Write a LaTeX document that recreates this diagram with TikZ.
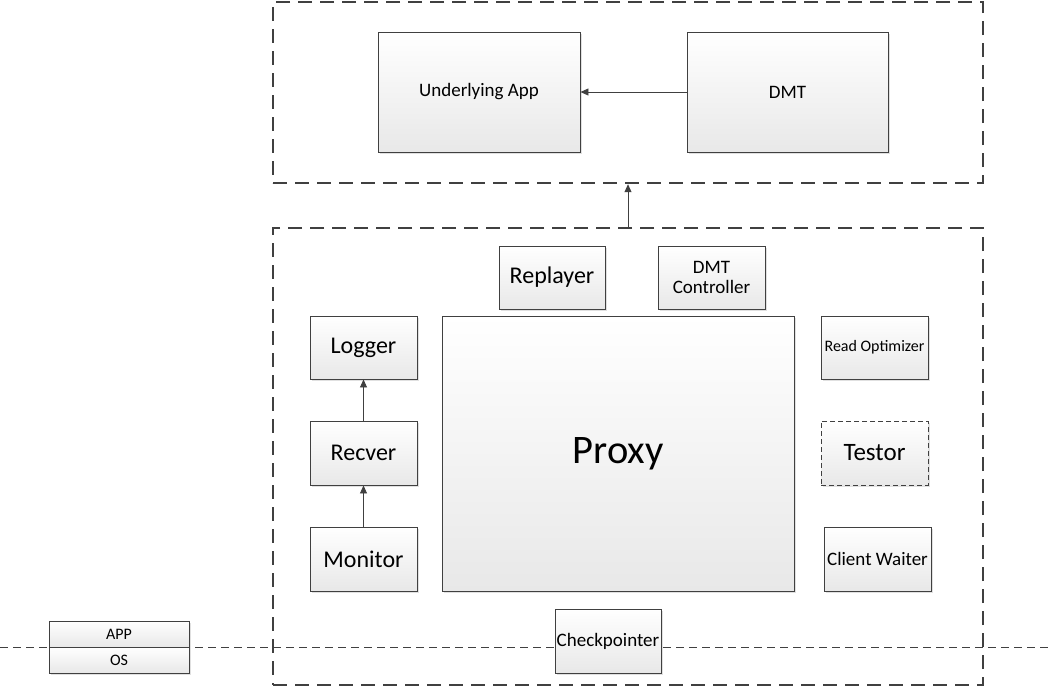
\documentclass[tikz,border=0pt]{standalone}
\usepackage{fontspec}
\setmainfont{Carlito}
\usetikzlibrary{arrows.meta,shadows}
\definecolor{linec}{RGB}{64,64,64}
\tikzset{
  box/.style={draw=linec, line width=0.9pt, top color=white, bottom color=black!9,
    drop shadow={shadow xshift=1.5pt, shadow yshift=-1.5pt, fill=black, opacity=0.12},
    inner sep=0pt, align=center, text=black},
  container/.style={draw=linec, line width=2.4pt, dash pattern=on 14pt off 8pt},
  conn/.style={draw=linec, line width=0.9pt, -{Triangle[length=8pt,width=7pt]}},
}
\begin{document}
\begin{tikzpicture}[x=1pt,y=-1pt]
\useasboundingbox (0,0) rectangle (1048,689);
% horizontal thin dashed line
\coordinate (hl) at (0,647);
\coordinate (hr) at (1048,647);
\draw[linec, line width=1pt, dash pattern=on 8pt off 5pt] (hl) -- (hr);
% containers
\node[container, minimum width=710pt, minimum height=181pt, inner sep=0pt] (top) at (628,92.5) {};
\node[container, minimum width=710pt, minimum height=457pt, inner sep=0pt] (bot) at (628,456.5) {};
% boxes
\node[box, minimum width=202pt, minimum height=120pt, font=\fontsize{19}{21}\selectfont] (app) at (479,92) {Underlying App};
\node[box, minimum width=201pt, minimum height=120pt, font=\fontsize{19}{21}\selectfont] (dmt) at (787.5,92) {DMT};
\node[box, minimum width=106pt, minimum height=63pt, font=\fontsize{24}{26}\selectfont] (rep) at (552,277.5) {Replayer};
\node[box, minimum width=107pt, minimum height=63pt, font=\fontsize{19}{20}\selectfont] (dmtc) at (711.5,277.5) {DMT\\Controller};
\node[box, minimum width=107pt, minimum height=63pt, font=\fontsize{24}{26}\selectfont] (log) at (363.5,347.5) {Logger};
\node[box, minimum width=352pt, minimum height=275pt, font=\fontsize{40.5}{44}\selectfont] (proxy) at (618,453.5) {Proxy};
\node[box, minimum width=107pt, minimum height=63pt, font=\fontsize{16}{18}\selectfont] (ro) at (874.5,347.5) {Read Optimizer};
\node[box, minimum width=107pt, minimum height=64pt, font=\fontsize{24}{26}\selectfont] (rec) at (363.5,453) {Recver};
\node[box, dash pattern=on 5pt off 3pt, line width=0.8pt, minimum width=107pt, minimum height=64pt, font=\fontsize{25}{27}\selectfont] (test) at (874.5,453) {Testor};
\node[box, minimum width=107pt, minimum height=64pt, font=\fontsize{24}{26}\selectfont] (mon) at (363.5,559) {Monitor};
\node[box, minimum width=107pt, minimum height=64pt, font=\fontsize{19}{21}\selectfont] (cw) at (877.5,559) {Client Waiter};
\node[box, minimum width=106pt, minimum height=64pt, font=\fontsize{19}{21}\selectfont] (cp) at (608,641) {Checkpointer};
\node[box, minimum width=140pt, minimum height=26pt, font=\fontsize{16}{18}\selectfont] (appx) at (119,634) {APP};
\node[box, minimum width=140pt, minimum height=26pt, font=\fontsize{16}{18}\selectfont] (os) at (119,660) {OS};
% connectors
\draw[conn] (dmt.west) -- (app.east);
\draw[conn] (bot.north) -- (top.south);
\draw[conn] (mon.north) -- (rec.south);
\draw[conn] (rec.north) -- (log.south);
\end{tikzpicture}
\end{document}
